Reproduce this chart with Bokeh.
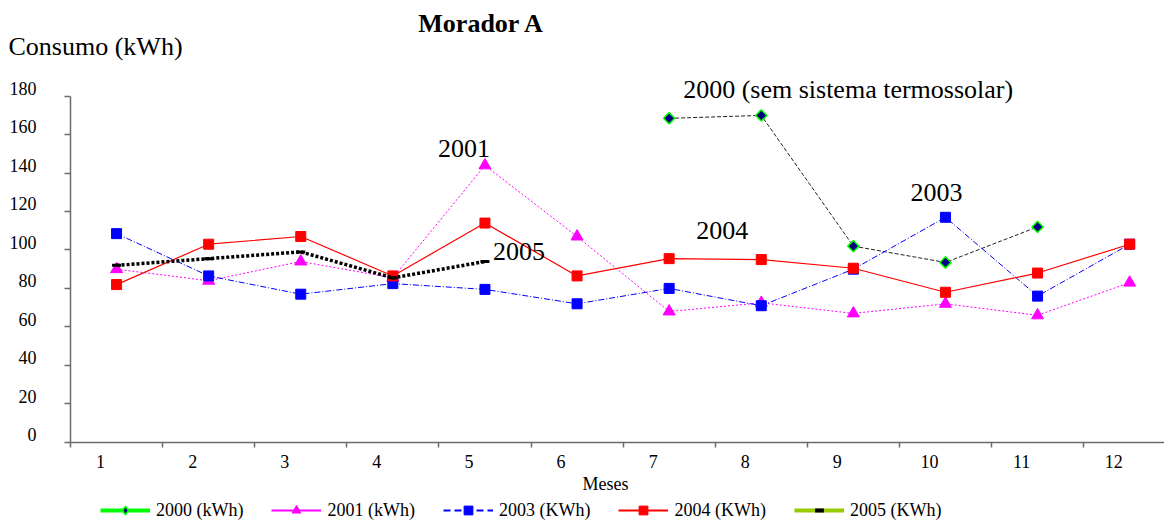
import math
from bokeh.plotting import figure
from bokeh.models import Range1d, FixedTicker, Label, Legend, LegendItem, ColumnDataSource
from bokeh.embed import file_html
from bokeh.resources import INLINE

# ---------------- data ----------------
months = [1, 2, 3, 4, 5, 6, 7, 8, 9, 10, 11, 12]
month_labels = [str(m) for m in months]
y_ticks = [0, 20, 40, 60, 80, 100, 120, 140, 160, 180]

m2000 = [7, 8, 9, 10, 11]
v2000 = [168.5, 170, 102, 93.5, 112]
v2001 = [90, 84, 94, 85.5, 144, 107, 68, 72.5, 67, 72, 66, 83]
v2003 = [108.5, 86.5, 77, 82.5, 79.5, 72, 80, 71, 90, 117, 76, 103]
v2004 = [82, 103, 107, 86.5, 114, 86.5, 95.5, 95, 90.5, 78, 88, 103]
m2005 = [1, 2, 3, 4, 5]
v2005 = [92, 95.5, 99, 85.5, 94]

legend_labels = ["2000 (kWh)", "2001 (kWh)", "2003 (KWh)", "2004 (KWh)", "2005 (KWh)"]

FONT = "Liberation Serif"

W, H = 1164, 521
X0, XU = 70.0, 92.1        # px of x=0.5, px per month
Y0, YU = 441.7, 346.0 / 180  # px of y=0, px per kWh

p = figure(width=W, height=H, output_backend="svg", toolbar_location=None, title=None,
           x_range=Range1d(0.5 - X0 / XU, 0.5 + (W - X0) / XU),
           y_range=Range1d((Y0 - H) / YU, Y0 / YU),
           min_border_left=0, min_border_right=0, min_border_top=0, min_border_bottom=0)
p.outline_line_color = None
p.xgrid.visible = False
p.ygrid.visible = False
p.background_fill_color = "white"
p.border_fill_color = "white"

AX = "#6b6b6b"
xt = [0.5 + i for i in range(13)]
p.xaxis.fixed_location = 0
p.xaxis.bounds = (0.5, 12.5)
p.xaxis.ticker = FixedTicker(ticks=xt)
p.xaxis.major_label_overrides = {t: "" for t in xt}
p.xaxis.major_tick_out = 5
p.xaxis.major_tick_in = 0
p.xaxis.minor_tick_line_color = None
p.yaxis.fixed_location = 0.5
p.yaxis.bounds = (0, 180)
p.yaxis.ticker = FixedTicker(ticks=y_ticks)
p.yaxis.major_label_overrides = {t: "" for t in y_ticks}
p.yaxis.major_tick_out = 6
p.yaxis.major_tick_in = 0
p.yaxis.minor_tick_line_color = None
for ax in (p.xaxis, p.yaxis):
    ax.axis_line_color = AX
    ax.axis_line_width = 1.5
    ax.major_tick_line_color = AX
    ax.major_tick_line_width = 1.5

# ---------------- series ----------------
p.line(m2000, v2000, line_color="#222222", line_width=1, line_dash="4 2")
p.scatter(m2000, v2000, marker="square", angle=math.pi / 4, size=8,
          fill_color="#000080", line_color="#00FF00", line_width=1.5)

p.line(months, v2001, line_color="#FF00FF", line_width=1, line_dash="2 2")
p.scatter(months, v2001, marker="triangle", size=12, fill_color="#FF00FF", line_color="#FF00FF")

p.line(months, v2003, line_color="#0000FF", line_width=1, line_dash="6 2 1 2")
p.scatter(months, v2003, marker="square", size=10, fill_color="#0000FF", line_color="#0000FF")

p.line(months, v2004, line_color="#FF0000", line_width=1.2)
p.scatter(months, v2004, marker="square", size=10, fill_color="#FF0000", line_color="#FF0000")

p.line(m2005, v2005, line_color="black", line_width=3.5, line_dash="3 2")
p.scatter(m2005, v2005, marker="dash", size=9, line_color="black", line_width=3)

# ---------------- legend (legend-only renderers, one off-screen point) ----------------
def off_src():
    return ColumnDataSource(data=dict(x=[-100.0], y=[-1000.0]))
def lr(**kw):
    return p.line("x", "y", source=off_src(), **kw)
def lm(**kw):
    return p.scatter("x", "y", source=off_src(), **kw)

items = [
    LegendItem(label=legend_labels[0], renderers=[
        lr(line_color="#00FF00", line_width=4),
        lm(marker="diamond", fill_color="#000080", line_color="#00FF00", line_width=1.5)]),
    LegendItem(label=legend_labels[1], renderers=[
        lr(line_color="#FF00FF", line_width=2),
        lm(marker="triangle", fill_color="#FF00FF", line_color="#FF00FF")]),
    LegendItem(label=legend_labels[2], renderers=[
        lr(line_color="#0000FF", line_width=2, line_dash="7 4"),
        lm(marker="square", fill_color="#0000FF", line_color="#0000FF")]),
    LegendItem(label=legend_labels[3], renderers=[
        lr(line_color="#FF0000", line_width=2),
        lm(marker="square", fill_color="#FF0000", line_color="#FF0000")]),
    LegendItem(label=legend_labels[4], renderers=[
        lr(line_color="#99CC00", line_width=4),
        lm(marker="dash", line_color="black", line_width=4)]),
]
legend = Legend(items=items, orientation="horizontal", location=(100, 0),
                glyph_width=50, glyph_height=22, label_standoff=6, spacing=28,
                padding=0, margin=0, border_line_color=None, background_fill_alpha=0,
                label_text_font=FONT, label_text_font_size="18px", label_text_color="black")
p.add_layout(legend)

# ---------------- texts ----------------
def lab(text, x, y, xo=0, yo=0, size=18, align="left", style="normal"):
    # raise by a fraction of the font size so the glyphs sit where the reference shows them
    p.add_layout(Label(x=x, y=y, x_offset=xo, y_offset=yo + 0.37 * size, text=text,
                       text_font=FONT, text_font_size=f"{size}px", text_font_style=style,
                       text_align=align, text_baseline="alphabetic", text_color="black"))

for t in y_ticks:
    lab(str(t), 0.5, t, xo=-34, yo=1, align="right")
for m, s in zip(months, month_labels):
    lab(s, m, 0, xo=-16, yo=-26.3, align="center")

lab("Meses", 0.5, 0, xo=535, yo=-48.3, align="center")
lab("Consumo (kWh)", 0.5, 180, xo=-62, yo=39.7, size=26)
lab("Morador A", 0.5, 180, xo=411, yo=63.4, size=26, align="center", style="bold")

lab("2000 (sem sistema termossolar)", m2000[0], v2000[0], xo=14, yo=19, size=26)
lab("2001", months[4], v2001[4], xo=-21, yo=7, size=26, align="center")
lab("2005", m2005[4], v2005[4], xo=8, yo=0, size=26)
lab("2004", months[6], v2004[6], xo=53, yo=19, size=26, align="center")
lab("2003", months[9], v2003[9], xo=-9, yo=15, size=26, align="center")

open("out.html", "w").write(file_html(p, INLINE))
